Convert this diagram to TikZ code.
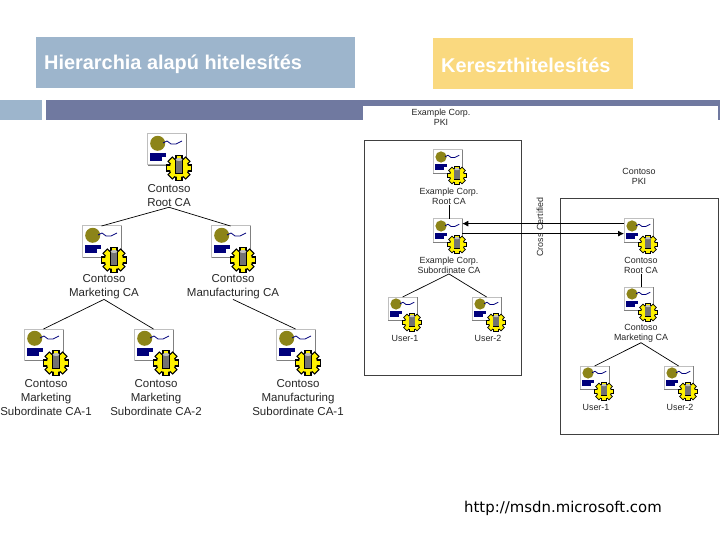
\documentclass[tikz,border=0pt]{standalone}
\usepackage{fontspec}
\setmainfont{Liberation Sans}
\newfontfamily\urlfont{DejaVu Sans}
\usepackage{tikz}
\usetikzlibrary{arrows.meta,calc}
\definecolor{headblue}{HTML}{9DB5CC}
\definecolor{headyellow}{HTML}{FAD97F}
\definecolor{barpurple}{HTML}{7079A0}
\definecolor{sealolive}{HTML}{8C8418}
\definecolor{certblue}{HTML}{00007B}
\tikzset{
  certbox/.style={draw=black!25, fill=white, line width=1pt, minimum width=39pt, minimum height=31pt, inner sep=0pt, outer sep=0pt, transform shape},
  biglabel/.style={align=center, inner sep=0pt, text=black!85, font=\fontsize{11.5}{14}\selectfont},
  smalllabel/.style={align=center, inner sep=0pt, text=black!85, font=\fontsize{8.9}{10}\selectfont},
  headbox/.style={minimum height=51pt, inner sep=0pt, anchor=north west},
  headtext/.style={anchor=west, inner sep=0pt, text=white, font=\bfseries\fontsize{19.9}{22}\selectfont},
  pkiframe/.style={draw=black!75, line width=0.9pt, fill=none},
  treeline/.style={draw=black, line width=0.7pt},
  crossline/.style={draw=black, line width=0.8pt, -{Latex[length=6pt,width=6pt]}},
  certicon/.pic={
    \node[certbox] (-box) at (19.5,15.5) {};
    % shadow edges
    \fill[black!50] (39,0.5) rectangle (40,32);
    \fill[black!50] (0.5,31) rectangle (40,32);
    \fill[sealolive] (10.7,9.3) circle (7.5);
    \draw[certblue, line width=0.8pt] (16,9) -- (20,7) -- (24,10) -- (29,10) -- (35,7);
    \fill[certblue] (3,19) rectangle (19,23);
    \fill[certblue] (3,23) rectangle (15,27);
    % gear and cylinder
    \begin{scope}[shift={(32,34)}]
      \foreach \a in {0,45,90,135} {
        \fill[black, rotate=\a] (-3.6,-13) rectangle (3.6,13);
      }
      \fill[black] (0,0) circle (10.5);
      \foreach \a in {0,45,90,135} {
        \fill[yellow, rotate=\a] (-2.4,-11.8) rectangle (2.4,11.8);
      }
      \fill[yellow] (0,0) circle (9.2);
      \fill[black] (-4.2,-9) rectangle (4.2,6);
      \fill[black!55] (-3.4,-8.5) rectangle (3.4,5);
      \fill[black!25] (0,-8.5) ellipse (3.4 and 1.5);
    \end{scope}
  }
}
\begin{document}
\begin{tikzpicture}[x=1pt, y=-1pt]
  \useasboundingbox (0,0) rectangle (720,540);

  % Title boxes
  \node[headbox, fill=headblue, minimum width=319pt] (hierbox) at (36,37) {};
  \node[headtext] (hiertext) at (44,64) {Hierarchia alapú hitelesítés};
  \node[headbox, fill=headyellow, minimum width=200pt] (crossbox) at (433,38) {};
  \node[headtext] (crosstext) at (441,65) {Kereszthitelesítés};

  % Bars
  \fill[headblue] (0,100) rectangle (42,120);
  \fill[barpurple] (46,100) rectangle (720,120);
  \fill[white] (363,106) rectangle (718,120);

  % Hierarchy icons
  \pic (hroot) at (147,134) {certicon};
  \pic (hmark) at (82,226) {certicon};
  \pic (hmanu) at (211,226) {certicon};
  \pic (hsuba) at (24,329) {certicon};
  \pic (hsubb) at (134,329) {certicon};
  \pic (hsubc) at (276,329) {certicon};

  % Hierarchy labels
  \node[biglabel] (lroot) at (169,196) {Contoso\\Root CA};
  \node[biglabel] (lmark) at (104,287) {Contoso\\Marketing CA};
  \node[biglabel] (lmanu) at (233,287) {Contoso\\Manufacturing CA};
  \node[biglabel] (lsuba) at (46,398) {Contoso\\Marketing\\Subordinate CA-1};
  \node[biglabel] (lsubb) at (156,398) {Contoso\\Marketing\\Subordinate CA-2};
  \node[biglabel] (lsubc) at (298,398) {Contoso\\Manufacturing\\Subordinate CA-1};

  \draw[treeline] (lroot.south) -- (hmark-box.north);
  \draw[treeline] (lroot.south) -- (hmanu-box.north);
  \draw[treeline] (lmark.south) -- (hsuba-box.north);
  \draw[treeline] (lmark.south) -- (hsubb-box.north);
  \draw[treeline] (lmanu.south) -- (hsubc-box.north);

  % Example Corp. PKI
  \node[pkiframe, minimum width=157.5pt, minimum height=235pt, anchor=north west, inner sep=0pt] (exframe) at (363.5,140) {};
  \node[smalllabel] (lexpki) at (441,117) {Example Corp.\\PKI};
  \pic[scale=0.75] (exroot) at (433,150) {certicon};
  \pic[scale=0.75] (exsub) at (433,219) {certicon};
  \pic[scale=0.75] (exusra) at (388,297) {certicon};
  \pic[scale=0.75] (exusrb) at (472,297) {certicon};
  \node[smalllabel] (lexroot) at (449,196.5) {Example Corp.\\Root CA};
  \node[smalllabel] (lexsub) at (449,265.5) {Example Corp.\\Subordinate CA};
  \node[smalllabel] (lexusra) at (405,338) {User-1};
  \node[smalllabel] (lexusrb) at (488,338) {User-2};
  \draw[treeline] (lexroot.south) -- (lexroot.south |- exsub-box.north);
  \draw[treeline] (lexsub.south) -- (exusra-box.north);
  \draw[treeline] (lexsub.south) -- (exusrb-box.north);

  % Contoso PKI
  \node[pkiframe, minimum width=158pt, minimum height=236pt, anchor=north west, inner sep=0pt] (coframe) at (560,198) {};
  \node[smalllabel] (lcopki) at (639,176.5) {Contoso\\PKI};
  \pic[scale=0.75] (coroot) at (624,219) {certicon};
  \pic[scale=0.75] (comark) at (624,287) {certicon};
  \pic[scale=0.75] (cousra) at (580,366) {certicon};
  \pic[scale=0.75] (cousrb) at (664,366) {certicon};
  \node[smalllabel] (lcoroot) at (641,265.5) {Contoso\\Root CA};
  \node[smalllabel] (lcomark) at (641,333.5) {Contoso\\Marketing CA};
  \node[smalllabel] (lcousra) at (596,407) {User-1};
  \node[smalllabel] (lcousrb) at (680,407) {User-2};
  \draw[treeline] (lcoroot.south) -- (lcoroot.south |- comark-box.north);
  \draw[treeline] (lcomark.south) -- (cousra-box.north);
  \draw[treeline] (lcomark.south) -- (cousrb-box.north);

  % Cross certification
  \draw[crossline] ([yshift=7pt]coroot-box.west) -- ([yshift=7pt]exsub-box.east);
  \draw[crossline] ([yshift=-3pt]exsub-box.east) -- ([yshift=-3pt]coroot-box.west);
  \node[smalllabel, rotate=90] (lcross) at (540,227) {Cross Certified};

  % Source
  \node[anchor=west, inner sep=0pt, text=black, font=\urlfont\fontsize{14.9}{16}\selectfont] (lsource) at (464,508) {http://msdn.microsoft.com};
\end{tikzpicture}
\end{document}
